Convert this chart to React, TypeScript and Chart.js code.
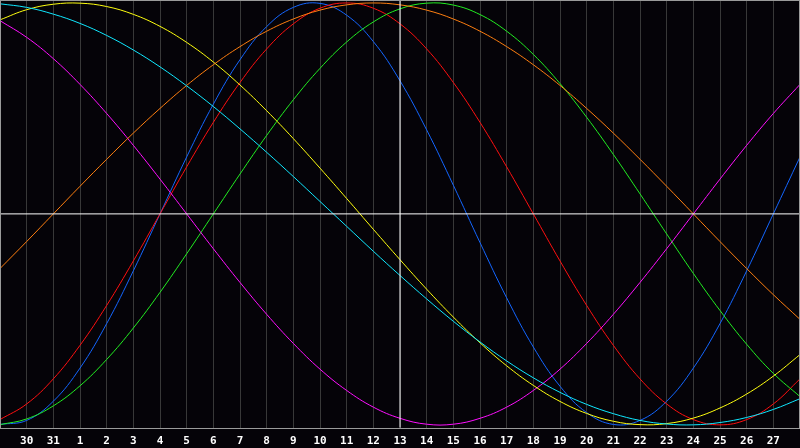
import React, { useEffect, useRef } from "react";
import { Chart, registerables } from "chart.js";

Chart.register(...registerables);

// Day labels for each sample (k = 0..30); first and last are not labelled
const dayLabels = [
  "29", "30", "31", "1", "2", "3", "4", "5", "6", "7", "8", "9", "10", "11", "12",
  "13", "14", "15", "16", "17", "18", "19", "20", "21", "22", "23", "24", "25", "26", "27", "28",
];
const todayLabel = "13";

// Values, one per day
const physical = [
  -0.998, -0.979, -0.888, -0.731, -0.52, -0.27, 0, 0.27, 0.52, 0.731, 0.888, 0.979, 0.998, 0.942, 0.817, 0.631,
  0.398, 0.136, -0.136, -0.398, -0.631, -0.817, -0.942, -0.998, -0.979, -0.888, -0.731, -0.52, -0.27, 0, 0.27,
];
const emotional = [
  -0.975, -0.901, -0.782, -0.623, -0.434, -0.223, 0, 0.223, 0.434, 0.623, 0.782, 0.901, 0.975, 1, 0.975, 0.901,
  0.782, 0.623, 0.434, 0.223, 0, -0.223, -0.434, -0.623, -0.782, -0.901, -0.975, -1, -0.975, -0.901, -0.782,
];
const intellectual = [
  -0.999, -0.972, -0.91, -0.815, -0.69, -0.541, -0.372, -0.189, 0, 0.189, 0.372, 0.541, 0.69, 0.815, 0.91, 0.972,
  0.999, 0.99, 0.945, 0.866, 0.756, 0.618, 0.458, 0.282, 0.095, -0.095, -0.282, -0.458, -0.618, -0.756, -0.866,
];
const intuitive = [
  0.916, 0.837, 0.736, 0.614, 0.476, 0.325, 0.165, 0, -0.165, -0.325, -0.476, -0.614, -0.736, -0.837, -0.916, -0.969,
  -0.997, -0.997, -0.969, -0.916, -0.837, -0.736, -0.614, -0.476, -0.325, -0.165, 0, 0.165, 0.325, 0.476, 0.614,
];
const aesthetic = [
  0.92, 0.968, 0.994, 0.999, 0.983, 0.946, 0.889, 0.813, 0.72, 0.611, 0.489, 0.357, 0.217, 0.073, -0.073, -0.217,
  -0.357, -0.489, -0.611, -0.72, -0.813, -0.889, -0.946, -0.983, -0.999, -0.994, -0.968, -0.92, -0.854, -0.769, -0.667,
];
const awareness = [
  -0.259, -0.131, 0, 0.131, 0.259, 0.383, 0.5, 0.609, 0.707, 0.793, 0.866, 0.924, 0.966, 0.991, 1, 0.991,
  0.966, 0.924, 0.866, 0.793, 0.707, 0.609, 0.5, 0.383, 0.259, 0.131, 0, -0.131, -0.259, -0.383, -0.5,
];
const spiritual = [
  0.996, 0.979, 0.947, 0.903, 0.846, 0.777, 0.697, 0.607, 0.509, 0.403, 0.292, 0.177, 0.059, -0.059, -0.177, -0.292,
  -0.403, -0.509, -0.607, -0.697, -0.777, -0.846, -0.903, -0.947, -0.979, -0.996, -1, -0.989, -0.965, -0.927, -0.876,
];

const seriesList = [
  { name: "Physical", values: physical, color: "#1466ff" },
  { name: "Emotional", values: emotional, color: "#ff1010" },
  { name: "Intellectual", values: intellectual, color: "#22ee22" },
  { name: "Intuitive", values: intuitive, color: "#ff10ff" },
  { name: "Aesthetic", values: aesthetic, color: "#ffff10" },
  { name: "Awareness", values: awareness, color: "#ff7f10" },
  { name: "Spiritual", values: spiritual, color: "#10e8ff" },
];

const Y_LIMIT = 1.014;

export default function App() {
  const canvasRef = useRef<HTMLCanvasElement | null>(null);

  useEffect(() => {
    document.body.style.margin = "0";
    const canvas = canvasRef.current;
    if (!canvas) return;
    const lastIndex = dayLabels.length - 1;
    const todayIndex = dayLabels.indexOf(todayLabel);

    const curveSets = seriesList.map((s, i) => ({
      label: s.name,
      data: s.values.map((v, k) => ({ x: k, y: v })),
      borderColor: s.color,
      borderWidth: 1,
      pointRadius: 0,
      pointHoverRadius: 0,
      tension: 0.4,
      fill: false,
      order: 10 - i,
    }));

    const crossSets = [
      {
        label: "zero",
        data: [
          { x: 0, y: 0 },
          { x: lastIndex, y: 0 },
        ],
        borderColor: "#ffffff",
        borderWidth: 1,
        pointRadius: 0,
        pointHoverRadius: 0,
        tension: 0,
        order: 0,
      },
      {
        label: "today",
        data: [
          { x: todayIndex, y: -Y_LIMIT },
          { x: todayIndex, y: Y_LIMIT },
        ],
        borderColor: "#ffffff",
        borderWidth: 1,
        pointRadius: 0,
        pointHoverRadius: 0,
        tension: 0,
        order: 0,
      },
    ];

    const bgPlugin = {
      id: "bg",
      beforeDraw(chart: any) {
        const ctx = chart.ctx;
        ctx.save();
        ctx.fillStyle = "#050308";
        ctx.fillRect(0, 0, chart.width, chart.height);
        ctx.restore();
      },
    };
    const framePlugin = {
      id: "frame",
      afterDatasetsDraw(chart: any) {
        const { ctx, chartArea } = chart;
        ctx.save();
        ctx.strokeStyle = "#9a9a9a";
        ctx.lineWidth = 1;
        ctx.strokeRect(
          Math.round(chartArea.left) + 0.5,
          Math.round(chartArea.top) + 0.5,
          Math.round(chartArea.right - chartArea.left) - 1,
          Math.round(chartArea.bottom - chartArea.top)
        );
        ctx.restore();
      },
    };

    const chart = new Chart(canvas, {
      type: "line",
      data: { datasets: [...crossSets, ...curveSets] as any },
      options: {
        animation: false,
        responsive: false,
        devicePixelRatio: 1,
        layout: { padding: 0, autoPadding: false },
        plugins: { legend: { display: false }, tooltip: { enabled: false } },
        scales: {
          x: {
            type: "linear",
            min: 0,
            max: lastIndex,
            border: { display: false },
            grid: {
              color: "#383838",
              lineWidth: 1,
              drawTicks: true,
              tickLength: 7,
              tickColor: "rgba(0,0,0,0)",
            },
            ticks: {
              stepSize: 1,
              autoSkip: false,
              maxRotation: 0,
              padding: 0,
              color: "#ffffff",
              font: { family: "DejaVu Sans Mono", size: 11, weight: "bold" },
              callback: (v: any) => {
                const k = Number(v);
                if (k <= 0 || k >= lastIndex) return "";
                return dayLabels[k];
              },
            },
          },
          y: { display: false, min: -Y_LIMIT, max: Y_LIMIT },
        },
      },
      plugins: [bgPlugin, framePlugin],
    });
    return () => chart.destroy();
  }, []);

  return (
    <div style={{ position: "fixed", left: 0, top: 0, width: 800, height: 448 }}>
      <canvas ref={canvasRef} width={800} height={448} />
    </div>
  );
}
